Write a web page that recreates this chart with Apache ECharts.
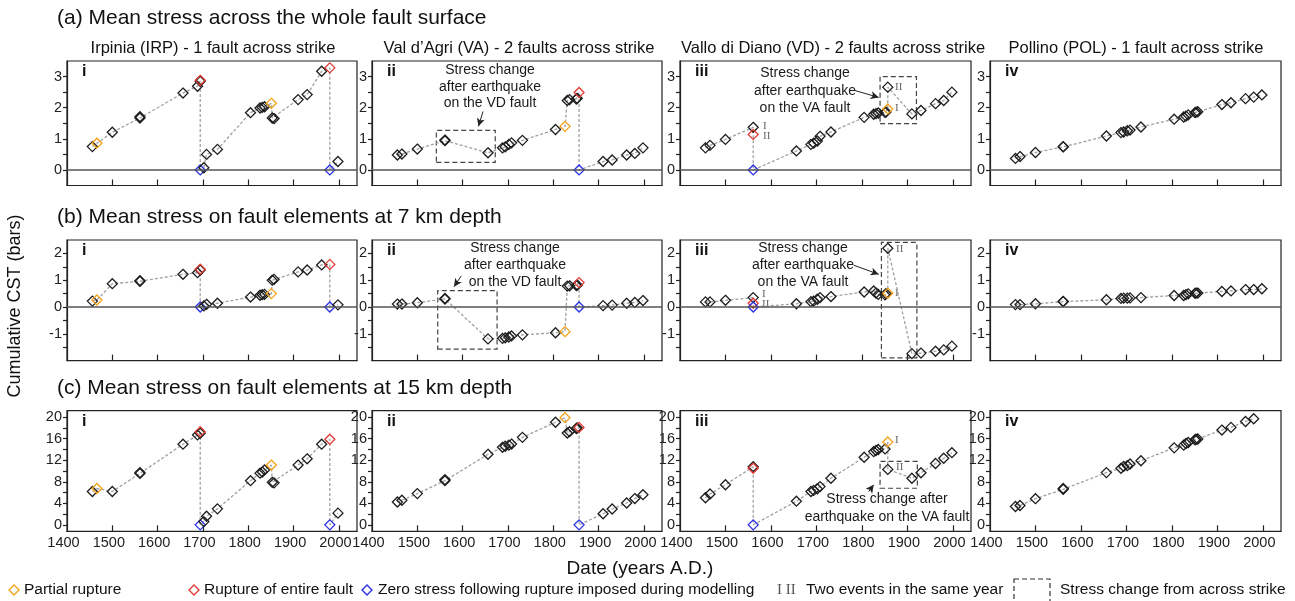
<!DOCTYPE html>
<html>
<head>
<meta charset="utf-8">
<script src="https://cdn.jsdelivr.net/npm/echarts@6/dist/echarts.min.js"></script>
<style>
  html, body { margin: 0; padding: 0; background: #fff; }
  #chart { width: 1295px; height: 601px; }
</style>
</head>
<body>
<div id="chart"></div>
<script>
// [year, cumulative CST, kind]  kind: p = partial rupture, e = entire fault, z = zero stress after rupture
var irpA = [[1456,0.75],[1466,0.86,'p'],[1500,1.21],[1561,1.67],[1561,1.71],[1656,2.47],[1688,2.69],[1694,2.85],[1694,2.88,'e'],[1694,0,'z'],[1702,0.07],[1708,0.5],[1732,0.66],[1805,1.84],[1826,1.99],[1831,2.01],[1836,2.03],[1851,2.14,'p'],[1853,1.67],[1857,1.65],[1910,2.26],[1930,2.42],[1962,3.17],[1980,3.28,'e'],[1980,0,'z'],[1998,0.27]];
var vaA = [[1456,0.48],[1466,0.51],[1500,0.67],[1561,0.94],[1561,0.96],[1656,0.55],[1688,0.71],[1694,0.74],[1702,0.82],[1708,0.87],[1732,0.95],[1805,1.30],[1826,1.40,'p'],[1831,2.23],[1836,2.26],[1851,2.28],[1853,2.30],[1857,2.49,'e'],[1857,0,'z'],[1910,0.27],[1930,0.32],[1962,0.48],[1980,0.53],[1998,0.71]];
var vdA = [[1456,0.71],[1466,0.79],[1500,0.98],[1561,1.37],[1561,1.14,'e'],[1561,0,'z'],[1656,0.61],[1688,0.82],[1694,0.86],[1702,0.93],[1708,1.08],[1732,1.22],[1805,1.69],[1826,1.79],[1831,1.81],[1836,1.83],[1851,1.85],[1853,1.86],[1857,1.96,'p'],[1857,2.66],[1910,1.80],[1930,1.91],[1962,2.13],[1980,2.23],[1998,2.5]];
var polA = [[1456,0.37],[1466,0.43],[1500,0.56],[1561,0.74],[1561,0.75],[1656,1.09],[1688,1.2],[1694,1.22],[1702,1.26],[1708,1.28],[1732,1.38],[1805,1.63],[1826,1.70],[1831,1.73],[1836,1.77],[1851,1.84],[1853,1.86],[1857,1.87],[1910,2.1],[1930,2.16],[1962,2.29],[1980,2.34],[1998,2.41]];

var irpB = [[1456,0.22],[1466,0.26,'p'],[1500,0.87],[1561,0.96],[1561,0.98],[1656,1.22],[1688,1.28],[1694,1.38],[1694,1.41,'e'],[1694,0,'z'],[1702,0.04],[1708,0.1],[1732,0.14],[1805,0.37],[1826,0.44],[1831,0.46],[1836,0.47],[1851,0.5,'p'],[1853,1.0],[1857,1.03],[1910,1.31],[1930,1.38],[1962,1.57],[1980,1.59,'e'],[1980,0,'z'],[1998,0.08]];
var vaB = [[1456,0.11],[1466,0.11],[1500,0.16],[1561,0.3],[1561,0.32],[1656,-1.19],[1688,-1.17],[1694,-1.15],[1702,-1.12],[1708,-1.08],[1732,-1.04],[1805,-0.96],[1826,-0.92,'p'],[1831,0.78],[1836,0.79],[1851,0.80],[1853,0.82],[1857,0.91,'e'],[1857,0,'z'],[1910,0.05],[1930,0.07],[1962,0.14],[1980,0.17],[1998,0.24]];
var vdB = [[1456,0.19],[1466,0.19],[1500,0.25],[1561,0.35],[1561,0.14,'e'],[1561,0,'z'],[1656,0.12],[1688,0.2],[1694,0.22],[1702,0.29],[1708,0.35],[1732,0.39],[1805,0.56],[1826,0.6],[1831,0.52],[1836,0.47],[1851,0.45],[1853,0.5],[1857,0.51,'p'],[1857,2.19],[1910,-1.74],[1930,-1.72],[1962,-1.65],[1980,-1.6],[1998,-1.46]];
var polB = [[1456,0.09],[1466,0.09],[1500,0.12],[1561,0.2],[1561,0.21],[1656,0.27],[1688,0.32],[1694,0.33],[1702,0.33],[1708,0.34],[1732,0.35],[1805,0.43],[1826,0.43],[1831,0.46],[1836,0.49],[1851,0.51],[1853,0.52],[1857,0.52],[1910,0.58],[1930,0.6],[1962,0.65],[1980,0.65],[1998,0.68]];

var irpC = [[1456,6.19],[1466,6.75,'p'],[1500,6.19],[1561,9.55],[1561,9.7],[1656,14.98],[1688,16.7],[1694,17.0],[1694,17.3,'e'],[1694,0,'z'],[1702,0.6],[1708,1.6],[1732,2.97],[1805,8.2],[1826,9.6],[1831,9.8],[1836,10.2],[1851,11.1,'p'],[1853,7.9],[1857,7.8],[1910,11.1],[1930,12.26],[1962,14.98],[1980,15.9,'e'],[1980,0,'z'],[1998,2.17]];
var vaC = [[1456,4.25],[1466,4.56],[1500,5.8],[1561,8.2],[1561,8.4],[1656,13.1],[1688,14.4],[1694,14.6],[1702,14.8],[1708,15.0],[1732,16.25],[1805,19.06],[1826,19.9,'p'],[1831,17.06],[1836,17.3],[1851,17.9],[1853,18.0],[1857,18.1,'e'],[1857,0,'z'],[1910,2.06],[1930,2.94],[1962,4.06],[1980,4.88],[1998,5.6]];
var vdC = [[1456,5.03],[1466,5.73],[1500,7.45],[1561,10.8],[1561,10.5,'e'],[1561,0,'z'],[1656,4.39],[1688,6.2],[1694,6.4],[1702,6.7],[1708,7.1],[1732,8.66],[1805,12.55],[1826,13.6],[1831,13.8],[1836,14.0],[1851,14.1],[1857,15.4,'p'],[1857,10.3],[1910,8.66],[1930,9.68],[1962,11.4],[1980,12.36],[1998,13.4]];
var polC = [[1456,3.4],[1466,3.6],[1500,4.86],[1561,6.6],[1561,6.75],[1656,9.7],[1688,10.5],[1694,10.85],[1702,11.0],[1708,11.3],[1732,11.9],[1805,14.3],[1826,14.8],[1831,15.1],[1836,15.3],[1851,15.8],[1853,15.9],[1857,15.95],[1910,17.6],[1930,18.1],[1962,19.2],[1980,19.7]];

var xLabels = [1400, 1500, 1600, 1700, 1800, 1900, 2000];
var xTicks = [1500, 1600, 1700, 1800, 1900, 2000];
var yLabelsByRow = [[0, 1, 2, 3], [-1, 0, 1, 2], [0, 4, 8, 12, 16, 20]];
var yTicksByRow = [[0, 0.5, 1, 1.5, 2, 2.5, 3], [-1.5, -1, -0.5, 0, 0.5, 1, 1.5, 2], [0, 2, 4, 6, 8, 10, 12, 14, 16, 18, 20]];

var rowTitles = ['(a) Mean stress across the whole fault surface', '(b) Mean stress on fault elements at 7 km depth', '(c) Mean stress on fault elements at 15 km depth'];
var colTitles = ['Irpinia (IRP) - 1 fault across strike', 'Val d\u2019Agri (VA) - 2 faults across strike', 'Vallo di Diano (VD) - 2 faults across strike', 'Pollino (POL) - 1 fault across strike'];
var panelTags = ['i', 'ii', 'iii', 'iv'];

// across-strike boxes and arrows, in data units, keyed by panel index
var boxes = {1: [[1542, 0.24], [1672, 1.27]], 2: [[1840, 1.49], [1920, 3.0]], 5: [[1545, -1.57], [1676, 0.61]], 6: [[1843, -1.9], [1921, 2.41]], 10: [[1840, 6.8], [1922, 11.8]]};
var arrows = {1: [[1645, 1.88], [1635, 1.40]], 2: [[1785, 2.55], [1837, 2.33]], 5: [[1597, 1.16], [1581, 0.76]], 6: [[1782, 1.56], [1837, 1.22]], 10: [[1815, 6.18], [1826, 7.43]]};

var FONT = '"Liberation Sans", Arial, sans-serif';
var KIND_COLOR = {'': '#1e1e1e', p: '#f5a21c', e: '#e33b35', z: '#2830e6'};

var colLeft = [67, 372, 680, 990], colWidth = [290, 290, 291, 291];
var rowTop = [61, 240, 410.7], rowHeight = [124.5, 120.6, 120.6];
var rowMin = [-0.5, -2, -1.2], rowMax = [3.5, 2.5, 21.2];

var panels = [irpA, vaA, vdA, polA, irpB, vaB, vdB, polB, irpC, vaC, vdC, polC];
var grids = [], xAxes = [], yAxes = [], series = [], graphics = [];

panels.forEach(function (pts, k) {
  var r = Math.floor(k / 4), c = k % 4;
  grids.push({ left: colLeft[c], top: rowTop[r], width: colWidth[c], height: rowHeight[r],
    show: true, borderColor: '#222', borderWidth: 1.2 });
  xAxes.push({
    type: 'value', gridIndex: k, min: 1400, max: 2040,
    axisLine: { show: true, onZero: false, lineStyle: { color: '#222', width: 1.2 } },
    axisTick: { show: true, inside: true, length: 6, customValues: xTicks, lineStyle: { color: '#222', width: 1.2 } },
    axisLabel: { show: r === 2, customValues: xLabels, fontSize: 14.5, color: '#222', margin: 4, fontFamily: FONT,
      padding: [0, 7, 0, 0], formatter: function (v) { return String(v); } },
    splitLine: { show: false }
  });
  yAxes.push({
    type: 'value', gridIndex: k, min: rowMin[r], max: rowMax[r],
    axisLine: { show: true, onZero: false, lineStyle: { color: '#222', width: 1.2 } },
    axisTick: { show: true, length: 4, customValues: yTicksByRow[r], lineStyle: { color: '#222', width: 1.2 } },
    axisLabel: { customValues: yLabelsByRow[r], fontSize: 14.5, color: '#222', margin: 5, fontFamily: FONT },
    splitLine: { show: false }
  });

  var lines = [];
  if (r < 2) lines.push({ yAxis: 0, lineStyle: { color: '#555', type: 'solid', width: 1.6 } });
  if (arrows[k]) {
    var st = { color: '#222', type: 'solid', width: 1 };
    lines.push([{ coord: arrows[k][0], symbol: 'none', lineStyle: st },
                { coord: arrows[k][1], symbol: 'arrow', symbolSize: [6, 8], lineStyle: st }]);
  }
  var s = {
    type: 'line', xAxisIndex: k, yAxisIndex: k,
    symbol: 'diamond', symbolSize: 10,
    data: pts.map(function (p) {
      return { value: [p[0], p[1]], itemStyle: { borderColor: KIND_COLOR[p[2] || ''] } };
    }),
    itemStyle: { color: 'rgba(255,255,255,0)', borderWidth: 1.3 },
    lineStyle: { color: '#a0a0a0', width: 1.3, type: [3, 2] },
    emphasis: { disabled: true },
    markLine: { silent: true, symbol: 'none', label: { show: false }, data: lines }
  };
  if (boxes[k]) {
    s.markArea = { silent: true,
      itemStyle: { color: 'rgba(0,0,0,0)', borderColor: '#444', borderWidth: 1.2, borderType: [5, 3] },
      data: [[{ coord: boxes[k][0] }, { coord: boxes[k][1] }]] };
  }
  series.push(s);

  graphics.push({ type: 'text', x: colLeft[c] + 15, y: rowTop[r] + 11,
    style: { text: panelTags[c], font: 'bold 16px ' + FONT, fill: '#111', align: 'left', verticalAlign: 'middle', textAlign: 'left', textVerticalAlign: 'middle' } });
});

function txt(x, y, text, size, opts) {
  opts = opts || {};
  var al = opts.align || 'left';
  var el = { type: 'text', x: x, y: y,
    style: { text: text, font: (opts.weight || '') + ' ' + size + 'px ' + (opts.family || FONT), fill: opts.fill || '#111',
      align: al, textAlign: al, verticalAlign: 'middle', textVerticalAlign: 'middle' } };
  if (opts.rotation) el.rotation = opts.rotation;
  graphics.push(el);
}

var rowTitleY = [18, 217, 388];
rowTitles.forEach(function (t, i) { txt(57, rowTitleY[i], t, 21); });
var colTitleX = [213, 519, 833, 1136];
colTitles.forEach(function (t, i) { txt(colTitleX[i], 48, t, 16.5, { align: 'center' }); });

// annotation texts
var noteVD = ['Stress change', 'after earthquake', 'on the VD fault'];
var noteVA = ['Stress change', 'after earthquake', 'on the VA fault'];
[[490, [70, 86.7, 103.3], noteVD], [515, [248.3, 265, 281.7], noteVD],
 [805, [73.3, 91, 107.7], noteVA], [803, [248.3, 265, 281.7], noteVA],
 [887, [499.3, 516.7], ['Stress change after', 'earthquake on the VA fault']]].forEach(function (n) {
  n[2].forEach(function (line, j) { txt(n[0], n[1][j], line, 14, { align: 'center', fill: '#1a1a1a' }); });
});

// I / II marks (two events in the same year)
var SERIF = '"Liberation Serif", "DejaVu Serif", serif';
[[763, 125.7, 'I'], [763, 136, 'II'], [895, 86.7, 'II'], [895, 108.3, 'I'],
 [762, 294, 'I'], [762, 304, 'II'], [896, 249.3, 'II'], [895, 293, 'I'],
 [895, 440, 'I'], [896, 466.7, 'II']].forEach(function (m) {
  txt(m[0], m[1], m[2], 11, { family: SERIF, fill: '#666' });
});

// axis titles
txt(15, 306, 'Cumulative CST (bars)', 18, { align: 'center', rotation: Math.PI / 2 });
txt(640, 569, 'Date (years A.D.)', 19, { align: 'center' });

// legend
function diamond(cx, cy, color) {
  graphics.push({ type: 'polygon', shape: { points: [[cx, cy - 5], [cx + 5, cy], [cx, cy + 5], [cx - 5, cy]] },
    style: { fill: 'none', stroke: color, lineWidth: 1.4 } });
}
diamond(14, 590, KIND_COLOR.p); txt(24, 590, 'Partial rupture', 15.5);
diamond(194, 590, KIND_COLOR.e); txt(204, 590, 'Rupture of entire fault', 15.5);
diamond(367, 590, KIND_COLOR.z); txt(378, 590, 'Zero stress following rupture imposed during modelling', 15.5);
txt(777, 590, 'I II', 15, { family: SERIF, fill: '#555' });
txt(806, 590, 'Two events in the same year', 15.5);
graphics.push({ type: 'rect', shape: { x: 1014, y: 579, width: 36, height: 30 },
  style: { fill: 'none', stroke: '#333', lineWidth: 1.2, lineDash: [5, 3] } });
txt(1060, 590, 'Stress change from across strike', 15.5);

var chart = echarts.init(document.getElementById('chart'));
chart.setOption({
  animation: false,
  backgroundColor: '#fff',
  textStyle: { fontFamily: FONT },
  grid: grids,
  xAxis: xAxes,
  yAxis: yAxes,
  series: series,
  graphic: graphics
});
</script>
</body>
</html>
